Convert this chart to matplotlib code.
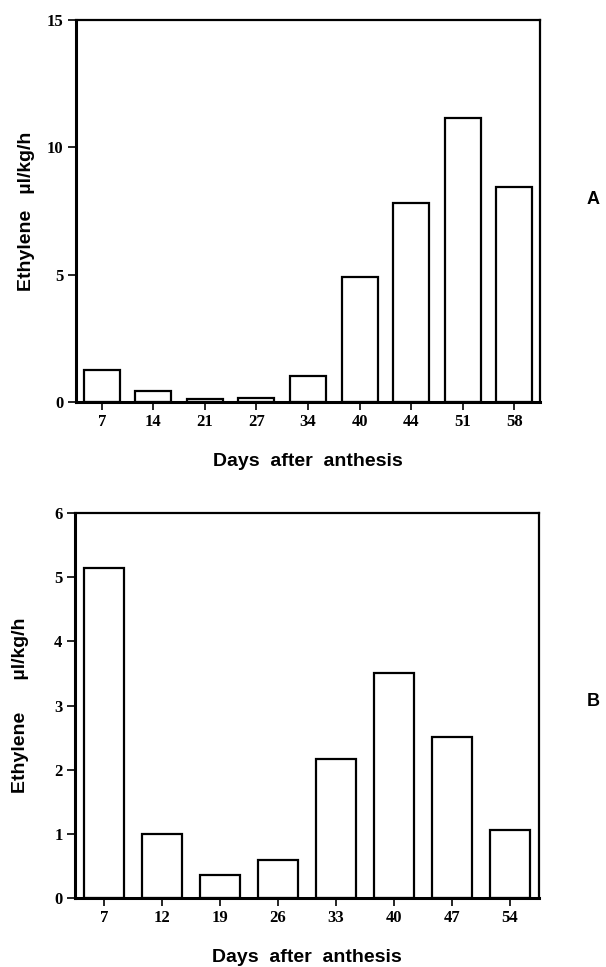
import matplotlib.pyplot as plt

# panel A
days_a = ["7", "14", "21", "27", "34", "40", "44", "51", "58"]
eth_a = [1.26, 0.43, 0.13, 0.16, 1.03, 4.92, 7.8, 11.14, 8.45]

# panel B
days_b = ["7", "12", "19", "26", "33", "40", "47", "54"]
eth_b = [5.15, 1.0, 0.36, 0.59, 2.16, 3.5, 2.51, 1.06]

fig = plt.figure(figsize=(6.06, 9.67), dpi=100)
W, H = 606, 967

serif = "Liberation Serif"
sans = "Liberation Sans"


def rect(l, t, r, b):
    # pixel box -> figure fraction
    return [l / W, 1 - b / H, (r - l) / W, (b - t) / H]


def panel(box, cats, vals, ymax, yticks, ylabel, letter, letter_y, ylab_x):
    ax = fig.add_axes(rect(*box))
    x = range(len(cats))
    ax.bar(x, vals, width=0.7, color="white", edgecolor="black", linewidth=1.6)
    ax.set_xlim(-0.5, len(cats) - 0.5)
    ax.set_ylim(0, ymax)
    ax.set_xticks(list(x))
    ax.set_xticklabels(cats, fontfamily=serif, fontweight="bold", fontsize=12)
    ax.set_yticks(yticks)
    ax.set_yticklabels([str(t) for t in yticks], fontfamily=serif, fontweight="bold", fontsize=12)
    ax.tick_params(direction="out", length=6, width=1.2, pad=3)
    for s in ["left", "bottom"]:
        ax.spines[s].set_linewidth(2.2)
    for s in ["top", "right"]:
        ax.spines[s].set_linewidth(1.6)

    l, t, r, b = box
    # x label sits ~60px under the axis
    ax.set_xlabel("Days  after  anthesis", fontfamily=sans, fontweight="bold", fontsize=14)
    ax.xaxis.set_label_coords(0.5, -60 / (b - t))
    ax.xaxis.label.set_va("center")
    ax.set_ylabel(ylabel, fontfamily=sans, fontweight="bold", fontsize=14)
    ax.yaxis.set_label_coords((ylab_x - l) / (r - l), 0.5)
    ax.yaxis.label.set_va("center")
    fig.text(593 / W, 1 - letter_y / H, letter, fontfamily=sans, fontweight="bold",
             fontsize=13, ha="center", va="center")
    return ax


panel((76, 20, 540, 402), days_a, eth_a, 15, [0, 5, 10, 15],
      "Ethylene   µl/kg/h", "A", 200, 27)
panel((75, 513, 539, 898), days_b, eth_b, 6, [0, 1, 2, 3, 4, 5, 6],
      "Ethylene      µl/kg/h", "B", 702, 21)

fig.savefig("out.png", dpi=100)
